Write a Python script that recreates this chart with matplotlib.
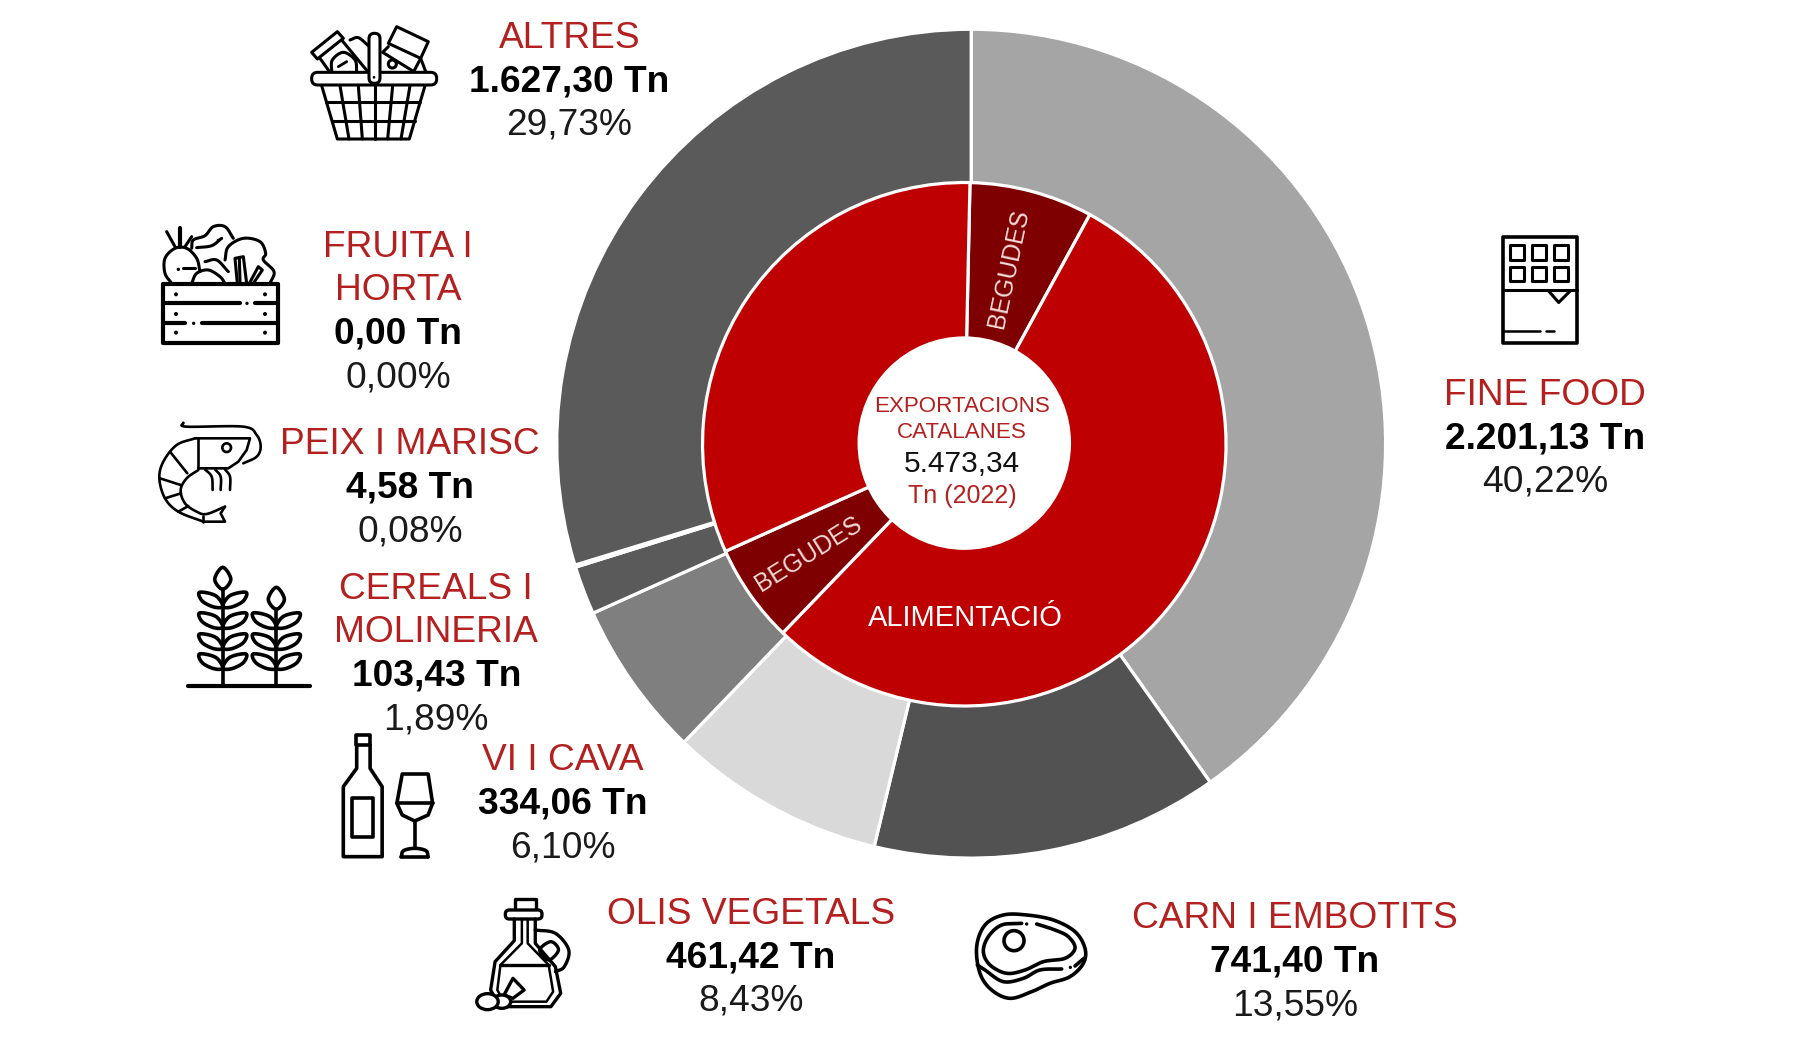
import numpy as np
import matplotlib
matplotlib.use("Agg")
import matplotlib.pyplot as plt
from matplotlib.patches import Polygon, FancyBboxPatch, Circle, Ellipse

plt.rcParams['font.family'] = ['Liberation Sans', 'DejaVu Sans']

# ---------- data ----------
outer_categories = ['FINE FOOD', 'CARN I EMBOTITS', 'OLIS VEGETALS', 'VI I CAVA',
                    'CEREALS I\nMOLINERIA', 'PEIX I MARISC', 'FRUITA I\nHORTA', 'ALTRES']
outer_values = [2201.13, 741.40, 461.42, 334.06, 103.43, 4.58, 0.00, 1627.30]
outer_value_labels = ['2.201,13 Tn', '741,40 Tn', '461,42 Tn', '334,06 Tn',
                      '103,43 Tn', '4,58 Tn', '0,00 Tn', '1.627,30 Tn']
outer_pct_labels = ['40,22%', '13,55%', '8,43%', '6,10%', '1,89%', '0,08%', '0,00%', '29,73%']
outer_colors = ['#A5A5A5', '#525252', '#D9D9D9', '#7F7F7F', '#5A5A5A', '#5A5A5A', '#5A5A5A', '#5A5A5A']

inner_categories = ['BEGUDES', 'ALIMENTACIÓ', 'BEGUDES', 'ALIMENTACIÓ']
inner_values = [417.0, 2968.0, 334.06, 1754.3]
inner_colors = ['#7F0000', '#BE0000', '#7F0000', '#BE0000']

center_lines = ['EXPORTACIONS', 'CATALANES', '5.473,34', 'Tn (2022)']

# ---------- canvas (pixel coordinates) ----------
W, H = 1800, 1037
K = 1800 / 1568
RED = '#B3201F'
fig = plt.figure(figsize=(W / 100, H / 100), dpi=100, facecolor='white')
ax = fig.add_axes([0, 0, 1, 1])

edge = dict(edgecolor='white', linewidth=2.3)
ax.pie(outer_values, colors=outer_colors, startangle=90, counterclock=False,
       center=(846 * K, H - 386.5 * K), radius=361 * K, wedgeprops=edge)
ax.pie(inner_values, colors=inner_colors, startangle=88.75, counterclock=False,
       center=(840 * K, H - 387 * K), radius=228 * K, wedgeprops=edge)
ax.add_patch(Circle((840 * K, H - 386 * K), 93 * K, facecolor='white', edgecolor='none', zorder=3))
ax.set_xlim(0, W)
ax.set_ylim(0, H)
ax.set_aspect('equal')
ax.axis('off')


def label(x, y, s, size, color='black', weight='normal', rot=0):
    ax.text(x * K, H - y * K - (0 if rot else 0.358 * size * 100 / 72), s, fontsize=size, color=color,
            fontweight=weight, ha='center', va='center' if rot else 'baseline',
            rotation=rot, rotation_mode='anchor', zorder=5)


FS = 26.7
blocks = {
    0: (1346, [341], 379, 417),
    1: (1128, [797], 835, 873),
    2: (654, [793], 831, 869),
    3: (490, [659], 697, 735),
    4: (380, [510, 548], 586, 624),
    5: (357, [384], 422, 460),
    6: (347, [212, 250], 288, 326),
    7: (496, [30], 68, 106),
}
for i, (x, ys, yv, yp) in blocks.items():
    for line, y in zip(outer_categories[i].split('\n'), ys):
        label(x, y, line, FS, RED)
    label(x, yv, outer_value_labels[i], FS, 'black', 'bold')
    label(x, yp, outer_pct_labels[i], FS, '#1a1a1a')

label(838, 351.5, center_lines[0], 16.1, RED)
label(838, 374.5, center_lines[1], 16.1, RED)
label(838, 401.5, center_lines[2], 21.5, '#111111')
label(838, 430.5, center_lines[3], 18, RED)
label(841, 536, inner_categories[1], 21, 'white')
label(879, 234, inner_categories[0], 17.8, '#F4DADA', rot=78)
label(704, 483, inner_categories[2], 17.8, '#F4DADA', rot=32)


# ---------- icons ----------
def spline(pts, closed=False, n=14):
    p = np.asarray(pts, float)
    if closed:
        p = np.vstack([p[-1], p, p[0], p[1]])
    else:
        p = np.vstack([2 * p[0] - p[1], p, 2 * p[-1] - p[-2]])
    out = []
    for i in range(1, len(p) - 2):
        t = np.linspace(0, 1, n, endpoint=False)[:, None]
        a, b, c, d = p[i - 1], p[i], p[i + 1], p[i + 2]
        out.append(0.5 * (2 * b + (c - a) * t + (2 * a - 5 * b + 4 * c - d) * t ** 2 + (3 * b - a - 3 * c + d) * t ** 3))
    out = np.vstack(out + [p[-2][None]])
    return out


class Icon:
    def __init__(self, ox, oy, sx, sy=None, lw=2.2):
        self.ox, self.oy, self.sx, self.sy, self.lw = ox, oy, sx, sy or sx, lw

    def m(self, pts):
        p = np.asarray(pts, float)
        return np.c_[self.ox + p[:, 0] / self.sx, H - (self.oy + p[:, 1] / self.sy)]

    def line(self, pts, smooth=False, lw=None, closed=False, fill=None):
        p = spline(pts, closed) if smooth else np.asarray(pts, float)
        q = self.m(p)
        if closed or fill:
            ax.add_patch(Polygon(q, closed=True, facecolor=fill or 'none', edgecolor='black',
                                 linewidth=lw or self.lw, zorder=6, joinstyle='round'))
        else:
            ax.plot(q[:, 0], q[:, 1], color='black', lw=lw or self.lw, zorder=6,
                    solid_capstyle='round', solid_joinstyle='round')

    def circle(self, x, y, r, fill='none', lw=None):
        c = self.m([[x, y]])[0]
        ax.add_patch(Ellipse(c, 2 * r / self.sx, 2 * r / self.sy, facecolor=fill, edgecolor='black',
                             linewidth=lw or self.lw, zorder=6))

    def dot(self, x, y, r=5):
        c = self.m([[x, y]])[0]
        ax.add_patch(Circle(c, r / self.sy, facecolor='black', edgecolor='none', zorder=6))

    def rrect(self, x0, y0, x1, y1, rad, fill='white'):
        a = self.m([[x0, y1]])[0]
        w, h = (x1 - x0) / self.sx, (y1 - y0) / self.sy
        r = rad / self.sy
        ax.add_patch(FancyBboxPatch((a[0] + r, a[1] + r), w - 2 * r, h - 2 * r,
                                    boxstyle=f'round,pad={r},rounding_size={r}',
                                    facecolor=fill, edgecolor='black', linewidth=self.lw, zorder=6))


# basket
b = Icon(300, 15, 3)
b.line([[60, 130], [90, 172]])
b.line([[125, 75], [205, 172]])
b.line([[35, 112], [112, 50], [130, 70], [52, 132]], closed=True)
b.line([[95, 170], [97, 135], [130, 112], [165, 135], [170, 170]], smooth=True)
b.line([[115, 155], [140, 140]], lw=2)
b.line([[150, 75], [175, 68], [205, 92]], smooth=True)
b.line([[290, 35], [385, 80], [362, 130], [265, 85]], closed=True)
b.line([[265, 95], [248, 112], [345, 172]])
b.line([[362, 130], [378, 172]])
b.line([[340, 172], [362, 130]])
b.circle(277, 147, 12)
b.line([[65, 212], [112, 372], [328, 372], [375, 212]])
for y, xa, xb in [(262, 79, 361), (318, 95, 345)]:
    b.line([[xa, y], [xb, y]])
for xa, xb in [(120, 147), (175, 187), (225, 225), (278, 263), (330, 303)]:
    b.line([[xa, 212], [xb, 372]])
b.rrect(35, 172, 410, 210, 18)
b.rrect(207, 55, 240, 205, 16)
b.dot(222, 187, 4)

# crate
c = Icon(150, 215, 3)
c.line([[65, 205], [45, 175], [45, 130], [75, 100], [110, 100], [140, 130], [150, 170]], smooth=True)
c.line([[90, 95], [90, 40]], lw=3)
c.line([[75, 95], [50, 50]])
c.line([[105, 95], [125, 65]])
c.dot(85, 163)
c.line([[100, 160], [135, 160]])
c.line([[125, 100], [130, 75], [165, 62], [190, 35], [225, 35], [250, 70]], smooth=True)
c.line([[140, 98], [185, 92], [215, 70]], smooth=True)
c.dot(205, 76)
c.line([[225, 135], [235, 95], [280, 70], [330, 80], [347, 115], [340, 135], [372, 170], [360, 205]], smooth=True)
c.line([[125, 205], [140, 175], [175, 165], [210, 185], [225, 205]], smooth=True)
c.line([[165, 140], [200, 135], [235, 170]], smooth=True)
c.line([[262, 205], [255, 130], [280, 125], [290, 205]])
c.line([[270, 200], [268, 130]])
c.line([[298, 205], [325, 155], [337, 165], [310, 205]])
c.line([[38, 207], [385, 207], [385, 385], [38, 385]], closed=True, lw=3)
c.line([[38, 265], [270, 265]], lw=3)
c.dot(291, 265)
c.line([[315, 265], [385, 265]], lw=3)
c.line([[38, 325], [105, 325]], lw=3)
c.dot(131, 325)
c.line([[155, 325], [385, 325]], lw=3)
for yy in (238, 297, 353):
    c.dot(78, yy, 6)
    c.dot(345, yy, 6)

# shrimp
s = Icon(150, 410, 3, lw=1.9)
s.line([[100, 38], [110, 50], [280, 50], [320, 75], [332, 110], [320, 140], [280, 160]], smooth=True)
s.line([[135, 85], [300, 85], [290, 120], [265, 155], [235, 175], [145, 175]])
s.line([[145, 85], [145, 175]])
s.circle(230, 113, 13)
s.line([[135, 85], [80, 105], [40, 155], [28, 205], [45, 265], [85, 305], [160, 335]], smooth=True)
s.line([[145, 180], [110, 205], [92, 240], [105, 280], [140, 305], [170, 312], [225, 290]], smooth=True)
s.line([[225, 290], [212, 310], [225, 335], [160, 335]])
s.line([[60, 125], [112, 190]])
s.line([[30, 205], [92, 225]])
s.line([[45, 265], [93, 250]])
s.line([[85, 305], [115, 288]])
s.line([[160, 318], [160, 335]])
for x0, x1, x2 in [(165, 185, 188), (195, 212, 212), (225, 240, 240)]:
    s.line([[x0, 178], [x1, 200], [x2, 240]], smooth=True)

# wheat, wine and oil share one crop's scale
SX2, SY2 = 1568 / 700, 3
w = Icon(100, 520, SX2, SY2, lw=2.6)


def leaf(ic, x, y, side):
    ic.line([[x, y + 24], [x + side * 16, y - 8], [x + side * 52, y - 18], [x + side * 46, y + 8], [x + side * 20, y + 26]],
            smooth=True, closed=True)


for xs, ys, top in [(275, (235, 297, 360, 420), 178), (395, (297, 360, 420), 238)]:
    w.line([[xs, top - 36], [xs + 18, top], [xs, top + 30], [xs - 18, top]], smooth=True, closed=True)
    w.line([[xs, top + 30], [xs, 497]])
    for yy in ys:
        leaf(w, xs, yy, 1)
        leaf(w, xs, yy, -1)
w.line([[198, 499], [470, 499]], lw=3)

# wine
v = Icon(100, 520, SX2, SY2, lw=2.6)
v.line([[573, 645], [605, 645], [605, 675], [573, 675]], closed=True)
v.line([[575, 675], [575, 745], [545, 800], [545, 1010], [632, 1010], [632, 800], [605, 745], [605, 675]])
v.line([[565, 835], [612, 835], [612, 950], [565, 950]], closed=True)
v.line([[677, 762], [735, 762], [745, 850], [735, 885], [705, 903], [677, 885], [665, 850]], closed=True, smooth=False)
v.line([[665, 850], [745, 850]])
v.line([[705, 903], [705, 985]])
v.line([[675, 1010], [680, 992], [705, 985], [730, 992], [735, 1010]], smooth=True)
v.line([[675, 1010], [735, 1010]])

# oil
o = Icon(100, 520, SX2, SY2, lw=2.4)
o.line([[930, 1170], [930, 1137], [977, 1137], [977, 1170]])
o.rrect(908, 1170, 990, 1197, 12)
o.line([[928, 1197], [928, 1262], [885, 1325], [875, 1410], [895, 1460], [1010, 1460], [1032, 1420], [1020, 1340], [975, 1270], [975, 1197]], smooth=False)
o.line([[945, 1197], [945, 1270], [897, 1335], [890, 1410], [905, 1445], [1000, 1445], [1015, 1415], [1005, 1335], [958, 1270], [958, 1197]], lw=1.8)
o.line([[975, 1230], [1020, 1240], [1050, 1290], [1040, 1340], [1020, 1355]], smooth=True)
o.line([[985, 1290], [1010, 1265], [1027, 1290], [1005, 1320]], smooth=True, closed=True)
o.line([[897, 1335], [1005, 1335]])
o.line([[905, 1425], [925, 1375], [950, 1410], [925, 1435]], fill='white')
o.circle(900, 1445, 20, 'white')
o.circle(868, 1445, 24, 'white')

# steak
t = Icon(960, 890, 3, lw=2.6)
t.line([[50, 170], [75, 105], [130, 75], [200, 75], [280, 90], [345, 125], [375, 175], [370, 220], [330, 260],
        [270, 280], [215, 305], [150, 325], [95, 300], [60, 250]], smooth=True, closed=True)
t.line([[185, 100], [125, 105], [85, 140], [70, 185], [90, 225], [140, 250], [195, 240], [250, 215], [315, 205],
        [345, 175], [325, 140], [285, 120], [230, 102]], smooth=True)
t.dot(200, 102)
t.line([[52, 225], [75, 240], [130, 275], [190, 265], [240, 240], [305, 237]], smooth=True)
t.dot(331, 232)
t.line([[345, 228], [372, 205]])
t.circle(162, 152, 30)

# chocolate
h = Icon(1000, 200, 1.96, 1.873, lw=2.2)
h.line([[985, 70], [1130, 70], [1130, 267], [985, 267]], closed=True, lw=2.6)
for x0, x1 in [(1000, 1028), (1043, 1070), (1085, 1113)]:
    for y0, y1 in [(85, 112), (125, 152)]:
        h.line([[x0, y0], [x1, y0], [x1, y1], [x0, y1]], closed=True)
h.line([[985, 168], [1130, 168]])
h.line([[1075, 170], [1095, 192], [1118, 170]])
h.line([[985, 245], [1058, 245]], lw=1.8)
h.line([[1070, 245], [1086, 245]], lw=1.8)

fig.savefig('out.png', dpi=100, facecolor='white')
